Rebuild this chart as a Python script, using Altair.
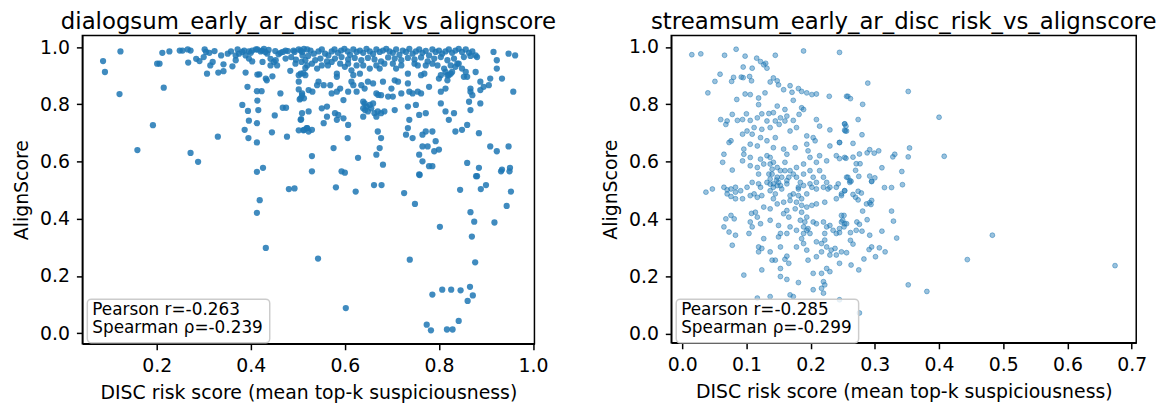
import altair as alt
import pandas as pd

LEFT_TITLE = "dialogsum_early_ar_disc_risk_vs_alignscore"
RIGHT_TITLE = "streamsum_early_ar_disc_risk_vs_alignscore"
X_LABEL = "DISC risk score (mean top-k suspiciousness)"
Y_LABEL = "AlignScore"

left_stats = ["Pearson r=-0.263", "Spearman ρ=-0.239"]
right_stats = ["Pearson r=-0.285", "Spearman ρ=-0.299"]

left_xticks = [0.2, 0.4, 0.6, 0.8, 1.0]
right_xticks = [0.0, 0.1, 0.2, 0.3, 0.4, 0.5, 0.6, 0.7]
y_ticks = [0.0, 0.2, 0.4, 0.6, 0.8, 1.0]

# ---- dialogsum (left) : (risk, alignscore) ----
left_top_a = [
    (0.086, 0.951), (0.123, 0.985), (0.201, 0.942), (0.206, 0.942), (0.212, 0.980), (0.227, 0.985),
    (0.249, 0.988), (0.255, 0.988), (0.266, 0.992), (0.272, 0.988), (0.267, 0.946), (0.284, 0.959),
    (0.291, 0.951), (0.300, 0.965), (0.305, 0.983), (0.302, 0.992), (0.312, 0.980), (0.323, 0.986),
    (0.319, 0.948), (0.337, 0.971), (0.342, 0.940), (0.351, 0.977), (0.368, 0.971), (0.375, 0.977),
    (0.382, 0.983), (0.389, 0.971), (0.396, 0.985), (0.403, 0.988), (0.403, 0.950), (0.411, 0.992),
    (0.424, 0.988), (0.431, 0.983), (0.438, 0.990), (0.442, 0.959), (0.449, 0.948), (0.452, 0.986),
    (0.459, 0.975), (0.468, 0.983), (0.479, 0.986), (0.486, 0.965), (0.493, 0.983), (0.496, 0.956),
    (0.509, 0.983), (0.358, 0.985), (0.372, 0.992), (0.386, 0.988), (0.400, 0.980), (0.414, 0.992),
    (0.421, 0.985), (0.428, 0.994), (0.435, 0.977), (0.463, 0.980), (0.474, 0.988), (0.491, 0.988),
    (0.502, 0.992), (0.368, 0.954), (0.396, 0.960), (0.425, 0.948), (0.453, 0.954), (0.474, 0.960),
    (0.495, 0.942),
]
left_top_b = [
    (0.506, 0.988), (0.513, 0.994), (0.520, 0.992), (0.527, 0.988), (0.510, 0.971), (0.522, 0.969),
    (0.534, 0.977), (0.544, 0.985), (0.551, 0.992), (0.558, 0.977), (0.565, 0.971), (0.572, 0.985),
    (0.578, 0.992), (0.585, 0.980), (0.592, 0.988), (0.599, 0.994), (0.606, 0.985), (0.611, 0.973),
    (0.618, 0.992), (0.625, 0.983), (0.632, 0.988), (0.639, 0.980), (0.646, 0.994), (0.653, 0.985),
    (0.660, 0.976), (0.667, 0.992), (0.674, 0.983), (0.681, 0.988), (0.688, 0.994), (0.695, 0.985),
    (0.702, 0.980), (0.709, 0.992), (0.716, 0.973), (0.723, 0.988), (0.730, 0.983), (0.737, 0.994),
    (0.744, 0.977), (0.751, 0.985), (0.758, 0.992), (0.765, 0.980), (0.772, 0.987), (0.779, 0.971),
    (0.786, 0.992), (0.793, 0.983), (0.800, 0.988), (0.807, 0.977), (0.814, 0.985), (0.821, 0.992),
    (0.828, 0.980), (0.835, 0.988), (0.842, 0.994), (0.849, 0.983), (0.857, 0.992), (0.864, 0.980),
    (0.871, 0.985), (0.878, 0.971), (0.881, 0.965), (0.916, 0.983), (0.948, 0.977), (0.962, 0.971),
    (0.923, 0.954),
]
left_second_row = [
    (0.508, 0.948), (0.516, 0.954), (0.537, 0.954), (0.548, 0.960), (0.562, 0.950), (0.579, 0.960),
    (0.593, 0.965), (0.607, 0.957), (0.621, 0.962), (0.635, 0.954), (0.649, 0.962), (0.663, 0.957),
    (0.677, 0.950), (0.692, 0.964), (0.706, 0.960), (0.720, 0.954), (0.734, 0.962), (0.748, 0.957),
    (0.762, 0.964), (0.776, 0.950), (0.790, 0.960), (0.804, 0.965), (0.818, 0.954), (0.832, 0.960),
    (0.853, 0.965), (0.867, 0.969),
    (0.506, 0.907), (0.516, 0.902), (0.520, 0.936), (0.530, 0.942), (0.541, 0.925), (0.551, 0.936),
    (0.564, 0.936), (0.572, 0.948), (0.583, 0.907), (0.590, 0.942), (0.600, 0.931), (0.607, 0.942),
    (0.614, 0.919), (0.618, 0.902), (0.625, 0.936), (0.632, 0.907), (0.639, 0.936), (0.653, 0.925),
    (0.667, 0.936), (0.674, 0.925), (0.684, 0.942), (0.702, 0.942), (0.709, 0.925), (0.720, 0.936),
    (0.734, 0.907), (0.748, 0.942), (0.755, 0.936), (0.762, 0.902), (0.772, 0.936), (0.786, 0.942),
    (0.797, 0.936), (0.804, 0.902), (0.811, 0.925), (0.814, 0.913), (0.818, 0.884), (0.821, 0.902),
    (0.825, 0.936), (0.828, 0.913), (0.842, 0.942), (0.857, 0.913), (0.860, 0.896), (0.878, 0.913),
    (0.090, 0.913), (0.307, 0.907), (0.314, 0.936), (0.331, 0.911), (0.342, 0.916), (0.361, 0.933),
    (0.389, 0.911), (0.414, 0.904), (0.418, 0.905), (0.432, 0.890), (0.434, 0.884), (0.446, 0.898),
    (0.442, 0.936), (0.456, 0.936), (0.484, 0.917), (0.502, 0.902), (0.512, 0.909), (0.516, 0.927),
    (0.923, 0.925),
]
left_upper_mid = [
    (0.121, 0.836), (0.215, 0.858), (0.393, 0.861), (0.413, 0.846), (0.423, 0.846), (0.414, 0.813),
    (0.416, 0.780), (0.382, 0.798), (0.394, 0.777), (0.463, 0.838), (0.468, 0.788), (0.475, 0.788),
    (0.502, 0.879), (0.502, 0.852), (0.504, 0.817), (0.509, 0.831), (0.523, 0.775), (0.451, 0.761),
    (0.509, 0.838), (0.513, 0.821), (0.523, 0.850), (0.531, 0.844), (0.541, 0.867), (0.544, 0.879),
    (0.555, 0.867), (0.569, 0.867), (0.572, 0.838), (0.583, 0.896), (0.583, 0.844), (0.590, 0.855),
    (0.597, 0.815), (0.607, 0.844), (0.614, 0.879), (0.618, 0.867), (0.625, 0.844), (0.635, 0.867),
    (0.642, 0.855), (0.649, 0.879), (0.660, 0.873), (0.667, 0.838), (0.671, 0.833), (0.677, 0.832),
    (0.681, 0.879), (0.692, 0.827), (0.699, 0.855), (0.702, 0.827), (0.706, 0.884), (0.713, 0.879),
    (0.720, 0.838), (0.734, 0.873), (0.737, 0.844), (0.744, 0.838), (0.755, 0.844), (0.762, 0.838),
    (0.769, 0.907), (0.779, 0.861), (0.800, 0.890), (0.804, 0.844), (0.814, 0.855), (0.818, 0.902),
    (0.825, 0.907), (0.835, 0.931), (0.839, 0.942), (0.849, 0.925), (0.853, 0.896), (0.867, 0.855),
    (0.867, 0.844), (0.871, 0.832), (0.888, 0.879), (0.888, 0.850), (0.895, 0.861), (0.906, 0.867),
    (0.909, 0.890), (0.934, 0.890), (0.958, 0.844),
    (0.506, 0.821), (0.509, 0.769), (0.506, 0.746), (0.551, 0.786), (0.562, 0.792), (0.562, 0.757),
    (0.579, 0.769), (0.583, 0.746), (0.586, 0.763), (0.597, 0.751), (0.639, 0.809), (0.642, 0.803),
    (0.646, 0.792), (0.639, 0.786), (0.649, 0.775), (0.653, 0.798), (0.656, 0.786), (0.660, 0.803),
    (0.663, 0.769), (0.667, 0.757), (0.670, 0.775), (0.677, 0.769), (0.684, 0.775), (0.639, 0.757),
    (0.643, 0.780), (0.706, 0.780), (0.734, 0.792), (0.751, 0.798), (0.737, 0.746), (0.758, 0.763),
    (0.772, 0.769), (0.804, 0.803), (0.814, 0.775), (0.821, 0.746), (0.832, 0.769), (0.864, 0.809),
    (0.867, 0.780), (0.888, 0.803), (0.507, 0.748),
]
left_lower = [
    (0.159, 0.640), (0.192, 0.727), (0.272, 0.630), (0.288, 0.599), (0.330, 0.687), (0.396, 0.743),
    (0.387, 0.711), (0.413, 0.734), (0.395, 0.682), (0.413, 0.667), (0.413, 0.564), (0.426, 0.578),
    (0.445, 0.702), (0.477, 0.687), (0.502, 0.709), (0.512, 0.709), (0.519, 0.717), (0.513, 0.711),
    (0.520, 0.717), (0.523, 0.705), (0.530, 0.711), (0.555, 0.734), (0.576, 0.647), (0.607, 0.728),
    (0.606, 0.682), (0.628, 0.613), (0.670, 0.705), (0.677, 0.682), (0.674, 0.647), (0.667, 0.624),
    (0.681, 0.589), (0.734, 0.717), (0.730, 0.694), (0.744, 0.682), (0.765, 0.694), (0.772, 0.705),
    (0.786, 0.705), (0.765, 0.653), (0.776, 0.653), (0.790, 0.636), (0.800, 0.642), (0.793, 0.671),
    (0.758, 0.624), (0.765, 0.601), (0.779, 0.584), (0.786, 0.584), (0.758, 0.555), (0.835, 0.705),
    (0.849, 0.711), (0.860, 0.728), (0.885, 0.699), (0.909, 0.653), (0.923, 0.636), (0.948, 0.653),
    (0.860, 0.595), (0.885, 0.578), (0.881, 0.549), (0.934, 0.572), (0.951, 0.578), (0.530, 0.619),
    (0.530, 0.566), (0.593, 0.566), (0.600, 0.561),
    (0.481, 0.504), (0.493, 0.506), (0.419, 0.465), (0.413, 0.421), (0.432, 0.298),
    (0.581, 0.510), (0.623, 0.495), (0.662, 0.518), (0.678, 0.518), (0.726, 0.490), (0.749, 0.452),
    (0.759, 0.553), (0.845, 0.501), (0.879, 0.549), (0.889, 0.504), (0.900, 0.518), (0.932, 0.566),
    (0.950, 0.566), (0.953, 0.495), (0.944, 0.445), (0.867, 0.423), (0.875, 0.390), (0.918, 0.387),
    (0.802, 0.372), (0.870, 0.338), (0.543, 0.261), (0.738, 0.257), (0.877, 0.248), (0.786, 0.135),
    (0.807, 0.152), (0.826, 0.152), (0.846, 0.150), (0.866, 0.162), (0.872, 0.132), (0.861, 0.113),
    (0.602, 0.088), (0.842, 0.043), (0.774, 0.030), (0.783, 0.010), (0.817, 0.013), (0.829, 0.013),
]

# ---- streamsum (right) : (risk, alignscore) ----
right_upper = [
    (0.015, 0.973), (0.029, 0.976), (0.066, 0.971), (0.084, 0.992), (0.098, 0.968), (0.145, 0.971),
    (0.189, 0.986), (0.245, 0.981), (0.116, 0.961), (0.122, 0.949), (0.130, 0.943), (0.132, 0.926),
    (0.127, 0.938), (0.109, 0.926), (0.095, 0.930), (0.059, 0.905), (0.051, 0.880), (0.040, 0.840),
    (0.080, 0.894), (0.077, 0.880), (0.092, 0.895), (0.095, 0.893), (0.105, 0.897), (0.108, 0.882),
    (0.137, 0.878), (0.142, 0.892), (0.150, 0.868), (0.148, 0.882), (0.168, 0.865), (0.158, 0.851),
    (0.171, 0.842), (0.181, 0.855), (0.186, 0.845), (0.194, 0.840), (0.202, 0.834), (0.209, 0.836),
    (0.229, 0.828), (0.256, 0.828), (0.098, 0.836), (0.106, 0.834), (0.129, 0.840), (0.119, 0.822),
    (0.085, 0.817), (0.173, 0.814), (0.119, 0.799), (0.148, 0.794), (0.186, 0.788), (0.189, 0.782),
    (0.160, 0.782), (0.124, 0.767), (0.135, 0.768), (0.142, 0.771), (0.153, 0.753), (0.163, 0.759),
    (0.173, 0.744), (0.160, 0.742), (0.182, 0.765), (0.078, 0.765), (0.100, 0.767), (0.117, 0.753),
    (0.106, 0.744), (0.086, 0.744), (0.070, 0.742), (0.060, 0.747), (0.068, 0.730), (0.094, 0.747),
    (0.132, 0.742), (0.145, 0.742), (0.151, 0.730), (0.209, 0.747), (0.214, 0.724), (0.230, 0.711),
    (0.253, 0.732), (0.256, 0.707), (0.194, 0.690), (0.204, 0.684), (0.207, 0.673), (0.178, 0.719),
    (0.168, 0.707), (0.194, 0.661), (0.196, 0.638), (0.176, 0.649), (0.158, 0.644), (0.142, 0.649),
    (0.132, 0.621), (0.117, 0.655), (0.122, 0.684), (0.109, 0.696), (0.101, 0.707), (0.094, 0.696),
    (0.112, 0.719), (0.124, 0.713), (0.137, 0.719), (0.145, 0.684), (0.132, 0.673), (0.106, 0.661),
    (0.096, 0.644), (0.096, 0.626), (0.106, 0.615), (0.076, 0.673), (0.073, 0.667), (0.065, 0.626),
    (0.063, 0.598), (0.078, 0.571), (0.094, 0.603), (0.106, 0.586), (0.117, 0.580), (0.119, 0.557),
    (0.109, 0.528), (0.119, 0.523), (0.137, 0.615), (0.142, 0.598), (0.148, 0.580), (0.140, 0.557),
    (0.148, 0.546), (0.153, 0.569), (0.160, 0.598), (0.163, 0.626), (0.166, 0.546), (0.178, 0.580),
    (0.189, 0.592), (0.199, 0.615), (0.209, 0.598), (0.214, 0.621), (0.225, 0.603), (0.230, 0.655),
    (0.240, 0.621), (0.245, 0.667), (0.253, 0.615), (0.256, 0.546), (0.243, 0.523), (0.230, 0.511),
    (0.220, 0.546), (0.209, 0.528), (0.199, 0.523), (0.189, 0.517), (0.181, 0.511), (0.173, 0.557),
    (0.163, 0.523), (0.153, 0.517), (0.142, 0.523), (0.132, 0.528), (0.122, 0.511), (0.101, 0.511),
    (0.083, 0.511), (0.076, 0.505), (0.065, 0.511), (0.047, 0.505), (0.155, 0.505),
]
right_core = [
    (0.137, 0.592), (0.140, 0.574), (0.147, 0.536), (0.150, 0.528), (0.155, 0.546), (0.137, 0.540),
    (0.142, 0.511), (0.160, 0.569), (0.163, 0.534), (0.135, 0.557), (0.168, 0.569), (0.178, 0.546),
    (0.189, 0.557), (0.184, 0.528), (0.199, 0.569), (0.204, 0.546), (0.214, 0.569), (0.225, 0.528),
    (0.127, 0.592), (0.122, 0.609), (0.137, 0.522), (0.142, 0.471), (0.148, 0.453), (0.168, 0.465),
    (0.181, 0.505), (0.186, 0.424), (0.189, 0.373), (0.184, 0.396), (0.194, 0.361), (0.163, 0.350),
    (0.153, 0.303), (0.137, 0.286), (0.178, 0.303), (0.194, 0.292), (0.209, 0.269),
]
right_side = [
    (0.289, 0.874), (0.352, 0.845), (0.258, 0.828), (0.262, 0.820), (0.281, 0.800), (0.400, 0.755),
    (0.274, 0.747), (0.253, 0.732), (0.255, 0.724), (0.253, 0.710), (0.254, 0.707), (0.280, 0.694),
    (0.245, 0.667), (0.266, 0.664), (0.354, 0.648), (0.352, 0.617), (0.408, 0.619), (0.292, 0.642),
    (0.306, 0.638), (0.288, 0.631), (0.299, 0.630), (0.331, 0.626), (0.328, 0.617), (0.245, 0.611),
    (0.255, 0.612), (0.266, 0.616), (0.276, 0.627), (0.271, 0.593), (0.277, 0.593), (0.270, 0.570),
    (0.311, 0.579), (0.342, 0.566), (0.258, 0.546), (0.261, 0.534), (0.263, 0.532), (0.275, 0.549),
    (0.292, 0.550), (0.295, 0.532), (0.300, 0.544), (0.343, 0.520), (0.315, 0.510), (0.326, 0.510),
    (0.253, 0.499), (0.274, 0.497),
    (0.279, 0.491), (0.266, 0.486), (0.270, 0.476), (0.274, 0.467), (0.287, 0.453), (0.292, 0.457),
    (0.295, 0.465), (0.294, 0.451), (0.281, 0.428), (0.248, 0.482), (0.261, 0.528), (0.295, 0.531),
    (0.326, 0.428), (0.329, 0.393), (0.248, 0.413), (0.252, 0.413), (0.248, 0.390), (0.253, 0.384),
    (0.252, 0.373), (0.245, 0.353), (0.262, 0.353), (0.272, 0.390), (0.276, 0.382), (0.288, 0.398),
    (0.271, 0.361), (0.280, 0.358), (0.292, 0.344), (0.311, 0.358), (0.334, 0.334), (0.262, 0.326),
    (0.266, 0.313), (0.248, 0.286), (0.256, 0.283), (0.291, 0.294), (0.295, 0.303), (0.307, 0.300),
    (0.316, 0.286), (0.301, 0.269), (0.283, 0.261), (0.263, 0.240), (0.245, 0.246), (0.275, 0.223),
    (0.352, 0.171), (0.381, 0.148), (0.444, 0.259), (0.483, 0.344), (0.674, 0.238), (0.276, 0.073),
]
right_lower = [
    (0.037, 0.494), (0.070, 0.502), (0.083, 0.494), (0.091, 0.499), (0.094, 0.471), (0.083, 0.471),
    (0.076, 0.479), (0.070, 0.488), (0.106, 0.482), (0.112, 0.488), (0.117, 0.476), (0.124, 0.482),
    (0.137, 0.499), (0.145, 0.488), (0.148, 0.517), (0.158, 0.459), (0.168, 0.482), (0.173, 0.488),
    (0.181, 0.482), (0.178, 0.459), (0.186, 0.471), (0.194, 0.488), (0.202, 0.511), (0.209, 0.505),
    (0.220, 0.511), (0.227, 0.505), (0.240, 0.511), (0.253, 0.499), (0.248, 0.488), (0.240, 0.471),
    (0.222, 0.459), (0.209, 0.453), (0.202, 0.448), (0.194, 0.442), (0.186, 0.448), (0.176, 0.436),
    (0.163, 0.430), (0.166, 0.407), (0.158, 0.419), (0.137, 0.436), (0.127, 0.442), (0.114, 0.424),
    (0.108, 0.420), (0.117, 0.407), (0.122, 0.384), (0.106, 0.390), (0.109, 0.373), (0.104, 0.350),
    (0.137, 0.396), (0.150, 0.378), (0.168, 0.373), (0.178, 0.361), (0.189, 0.350), (0.186, 0.332),
    (0.189, 0.315), (0.191, 0.390), (0.194, 0.407), (0.196, 0.367), (0.199, 0.350), (0.204, 0.390),
    (0.209, 0.384), (0.220, 0.390), (0.225, 0.373), (0.230, 0.378), (0.235, 0.361), (0.240, 0.350),
    (0.245, 0.367), (0.250, 0.396), (0.256, 0.384), (0.222, 0.350), (0.209, 0.321), (0.217, 0.315),
    (0.222, 0.327), (0.225, 0.303), (0.217, 0.286), (0.232, 0.292), (0.240, 0.275), (0.238, 0.298),
    (0.230, 0.275), (0.225, 0.228), (0.230, 0.217), (0.217, 0.211), (0.220, 0.182), (0.222, 0.171),
    (0.217, 0.159), (0.204, 0.211), (0.204, 0.154), (0.196, 0.257), (0.163, 0.271), (0.160, 0.260),
    (0.166, 0.246), (0.153, 0.228), (0.140, 0.257), (0.145, 0.257), (0.124, 0.298), (0.119, 0.286),
    (0.119, 0.303), (0.124, 0.223), (0.096, 0.205), (0.153, 0.200), (0.163, 0.190), (0.181, 0.179),
    (0.220, 0.142), (0.245, 0.119), (0.137, 0.130), (0.117, 0.125), (0.168, 0.136), (0.173, 0.130),
    (0.068, 0.401), (0.076, 0.413), (0.081, 0.401), (0.073, 0.355), (0.083, 0.344), (0.078, 0.309),
    (0.065, 0.373), (0.150, 0.338), (0.153, 0.350), (0.127, 0.332),
]

FONT = "DejaVu Sans"
BLUE = "#1f77b4"


def panel(points, stats, title, xdom, ydom, xticks, width, height, style):
    df = pd.DataFrame(points, columns=["risk", "align"])
    x = alt.X("risk:Q", title=X_LABEL,
              scale=alt.Scale(domain=xdom, nice=False, zero=False),
              axis=alt.Axis(values=xticks, format=".1f"))
    y = alt.Y("align:Q", title=Y_LABEL,
              scale=alt.Scale(domain=ydom, nice=False, zero=False),
              axis=alt.Axis(values=y_ticks, format=".1f"))
    pts = alt.Chart(df).mark_circle(clip=True, **style).encode(x=x, y=y)
    one = pd.DataFrame({"k": [0]})
    box = alt.Chart(one).mark_rect(
        fill="white", fillOpacity=0.8, stroke="#cccccc", strokeWidth=1.5, cornerRadius=4
    ).encode(x=alt.value(5), x2=alt.value(189), y=alt.value(266), y2=alt.value(310))
    layers = [pts, box]
    for i, s in enumerate(stats):
        t = alt.Chart(pd.DataFrame({"t": [s]})).mark_text(
            align="left", baseline="alphabetic", font=FONT, fontSize=17, color="black"
        ).encode(text="t:N", x=alt.value(10), y=alt.value(282 + 18 * i))
        layers.append(t)
    return alt.layer(*layers).properties(
        width=width, height=height,
        title=alt.TitleParams(title, font=FONT, fontSize=23, fontWeight="normal",
                              color="black", anchor="middle", offset=2),
    )


left = panel(left_top_a + left_top_b + left_second_row + left_upper_mid + left_lower,
             left_stats, LEFT_TITLE, [0.042, 1.003], [-0.037, 1.0406], left_xticks, 456, 311,
             dict(size=40, color=BLUE, opacity=0.85))
right = panel(right_upper + right_core + right_side + right_lower,
              right_stats, RIGHT_TITLE, [-0.017, 0.707], [-0.031, 1.040], right_xticks, 469, 310,
              dict(size=24, fill=BLUE, fillOpacity=0.45, stroke=BLUE, strokeOpacity=0.5, strokeWidth=1))

chart = alt.hconcat(left, right, spacing=44).properties(
    padding={"left": 4, "top": 0, "right": 5, "bottom": 0}
).configure_axis(
    labelFont=FONT, titleFont=FONT, labelFontSize=19, titleFontSize=19,
    titleFontWeight="normal", labelColor="black", titleColor="black",
    domainColor="black", tickColor="black", domainWidth=1.5, tickWidth=1.5,
    tickSize=6, labelPadding=7, titlePadding=8, grid=False,
).configure_view(stroke="black", strokeWidth=1.5)

chart.save("out.html", embed_options={"renderer": "svg", "actions": False})
